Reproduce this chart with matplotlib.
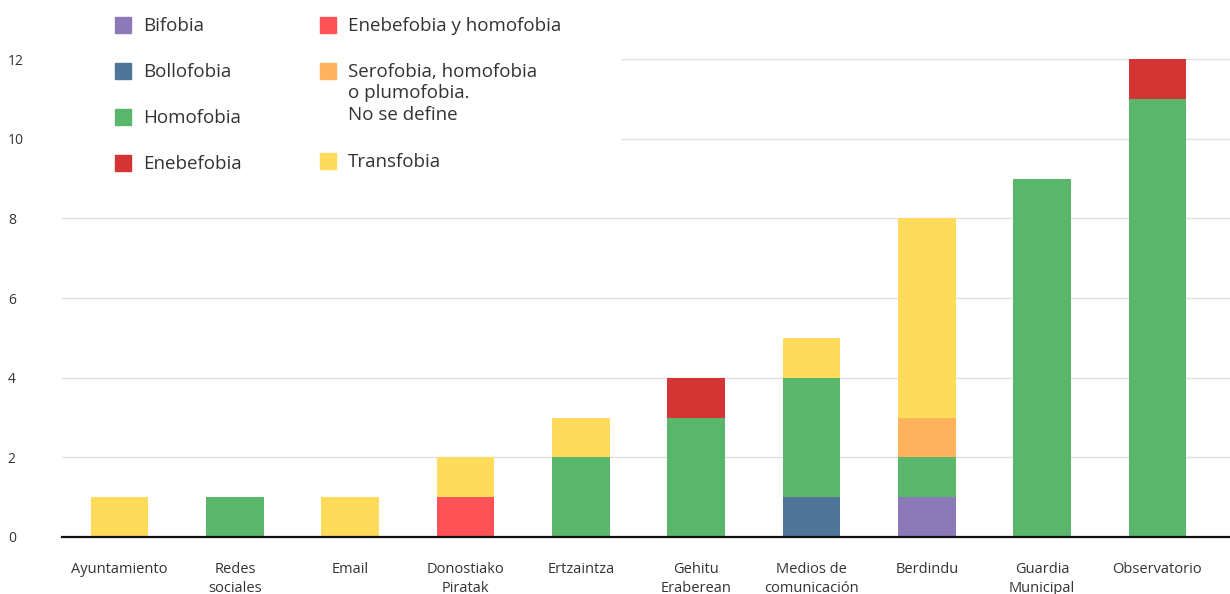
import matplotlib as mpl
mpl.use('Agg')
import matplotlib.pyplot as plt
from matplotlib.patches import Rectangle
import numpy as np

plt.rcParams['font.family'] = ['Open Sans', 'DejaVu Sans']

categories = ['Ayuntamiento', 'Redes\nsociales', 'Email', 'Donostiako\nPiratak',
              'Ertzaintza', 'Gehitu\nEraberean', 'Medios de\ncomunicación',
              'Berdindu', 'Guardia\nMunicipal', 'Observatorio']

series_names = ['Bifobia', 'Bollofobia', 'Homofobia', 'Enebefobia',
                'Enebefobia y homofobia',
                'Serofobia, homofobia\no plumofobia.\nNo se define',
                'Transfobia']
bifobia = [0, 0, 0, 0, 0, 0, 0, 1, 0, 0]
bollofobia = [0, 0, 0, 0, 0, 0, 1, 0, 0, 0]
homofobia = [0, 1, 0, 0, 2, 3, 3, 1, 9, 11]
enebefobia = [0, 0, 0, 0, 0, 1, 0, 0, 0, 1]
enebefobia_homofobia = [0, 0, 0, 1, 0, 0, 0, 0, 0, 0]
serofobia = [0, 0, 0, 0, 0, 0, 0, 1, 0, 0]
transfobia = [1, 0, 1, 1, 1, 0, 1, 5, 0, 0]
series_values = [bifobia, bollofobia, homofobia, enebefobia,
                 enebefobia_homofobia, serofobia, transfobia]
colors = ['#8C7AB8', '#4F7699', '#59B66B', '#D33535', '#FF5257',
          '#FFB25C', '#FFDB5C']
yticks = [0, 2, 4, 6, 8, 10, 12]

TEXT = '#333333'
W, H = 1230, 594
fig = plt.figure(figsize=(W / 100, H / 100), dpi=100)
ax = fig.add_axes([62 / W, 57 / H, 1 - 62 / W, (537 - 59) / H])

x = np.arange(len(categories))
bottom = np.zeros(len(categories))
for vals, c in zip(series_values, colors):
    ax.bar(x, vals, 0.5, bottom=bottom, color=c, zorder=2, linewidth=0)
    bottom += np.array(vals)

ax.set_xlim(-0.5, 9.63)
ax.set_ylim(0, 12)
ax.set_yticks(yticks)
ax.set_xticks(x)
ax.set_xticklabels(categories, fontsize=10.5, color=TEXT, linespacing=1.35,
                   va='top')
ax.tick_params(axis='x', length=0, pad=18)
ax.tick_params(axis='y', length=0, pad=39, labelsize=10, labelcolor=TEXT)
for lab in ax.get_yticklabels():
    lab.set_horizontalalignment('left')
ax.yaxis.grid(True, color='#E0E0E0', linewidth=1.0, zorder=0)
ax.set_axisbelow(True)
for s in ['top', 'right', 'left']:
    ax.spines[s].set_visible(False)
ax.spines['bottom'].set_color('#111111')
ax.spines['bottom'].set_linewidth(1.6)
ax.spines['bottom'].set_zorder(3)

# white box behind the legend
fig.add_artist(Rectangle((62 / W, 1 - 192 / H), (620 - 62) / W, 192 / H,
                         transform=fig.transFigure, color='white', zorder=1))

# legend, two columns
col1 = [(115, 25), (115, 71), (115, 117), (115, 163)]
col2 = [(320, 25), (320, 71), (320, 161)]
for i, (px, py) in enumerate(col1 + col2):
    fig.add_artist(Rectangle((px / W, 1 - (py + 8) / H), 16 / W, 16 / H,
                             transform=fig.transFigure, color=colors[i],
                             zorder=2))
    fig.text((px + 28) / W, 1 - (py - 8) / H, series_names[i], fontsize=13.5,
             color=TEXT, va='top', ha='left', linespacing=1.25, zorder=3)

fig.savefig('out.png', dpi=100)
